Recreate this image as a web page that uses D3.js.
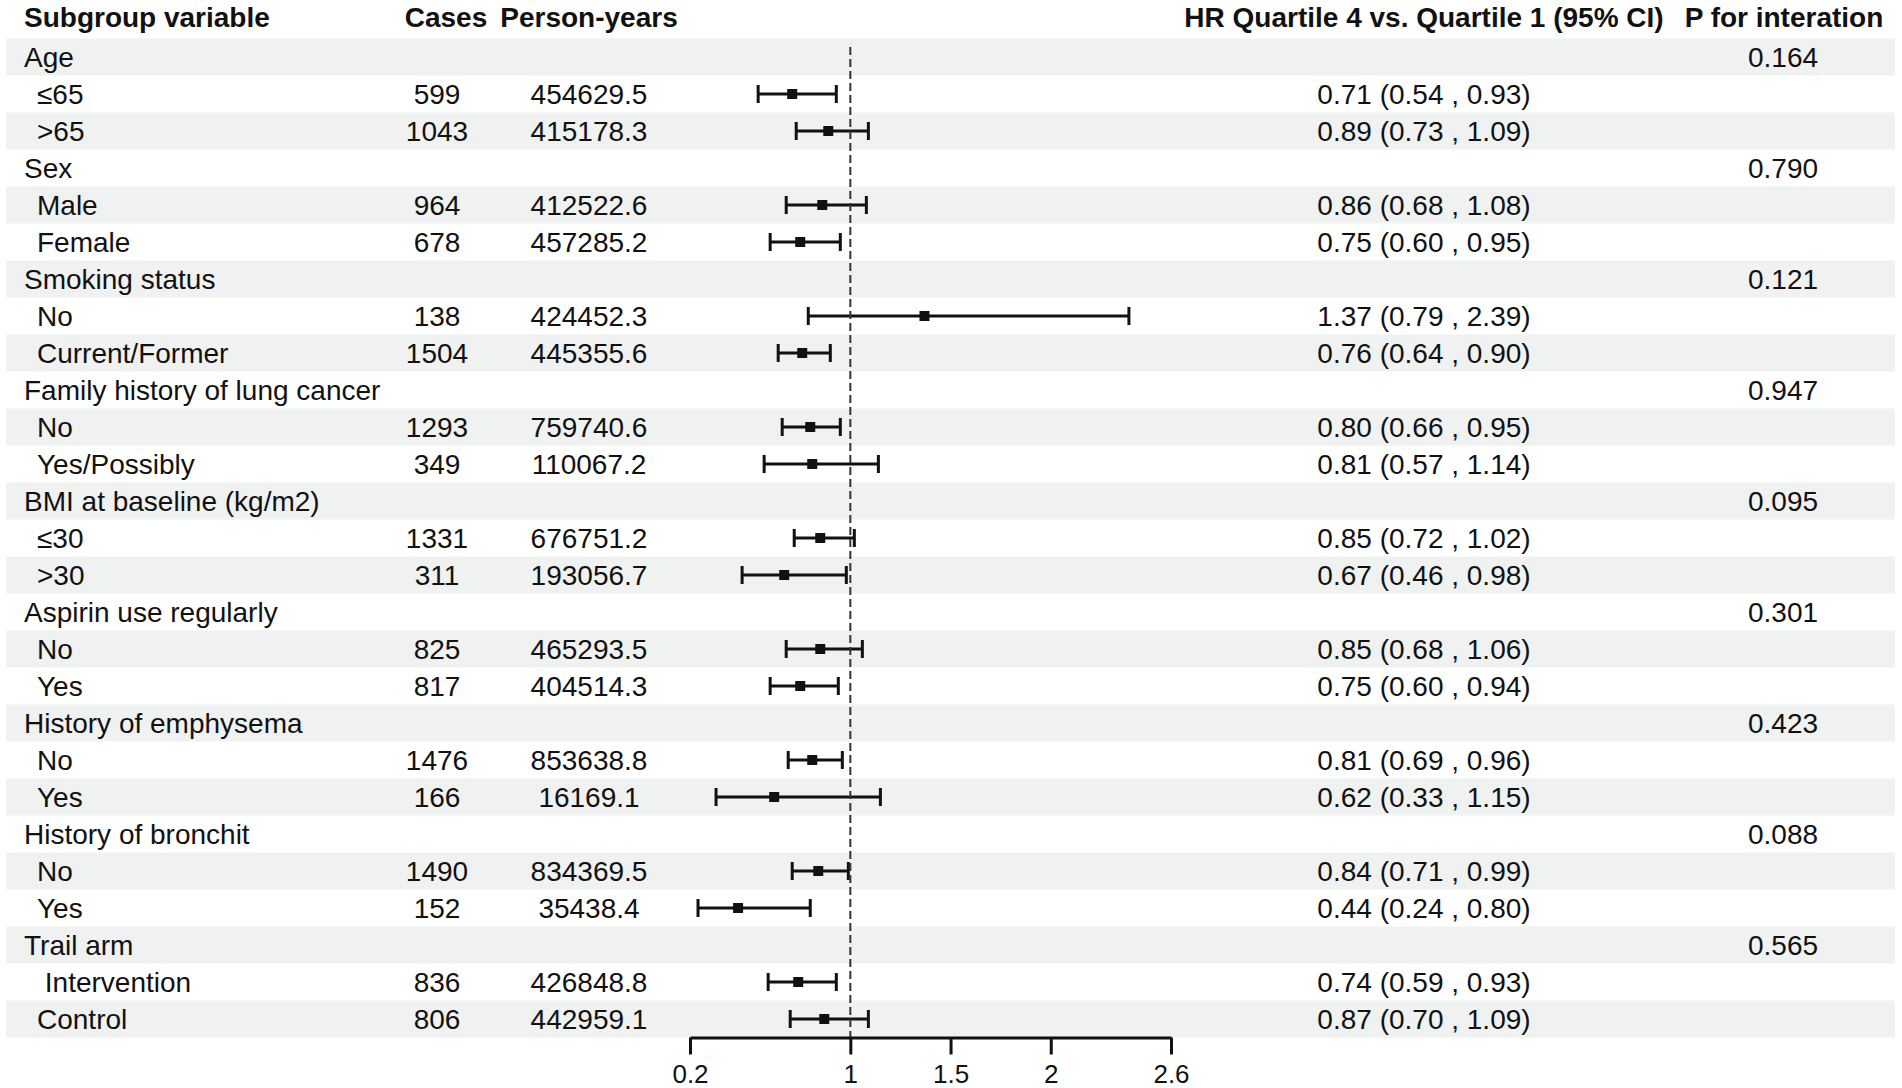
<!DOCTYPE html>
<html>
<head>
<meta charset="utf-8">
<script src="https://cdn.jsdelivr.net/npm/d3@7"></script>
<style>
    body { margin: 0; background: #fff; }
    text { font-family: "Liberation Sans", Arial, sans-serif; fill: #111; white-space: pre; }
</style>
</head>
<body>
<svg id="forest" width="1902" height="1088"></svg>
<script>
const groupNames = ["Age", "Sex", "Smoking status", "Family history of lung cancer",
    "BMI at baseline (kg/m2)", "Aspirin use regularly", "History of emphysema",
    "History of bronchit", "Trail arm"];
const pInteraction = ["0.164", "0.790", "0.121", "0.947", "0.095", "0.301", "0.423", "0.088", "0.565"];

const subLabels = ["≤65", ">65", "Male", "Female", "No", "Current/Former", "No", "Yes/Possibly",
    "≤30", ">30", "No", "Yes", "No", "Yes", "No", "Yes", " Intervention", "Control"];
const cases = [599, 1043, 964, 678, 138, 1504, 1293, 349, 1331, 311, 825, 817, 1476, 166, 1490, 152, 836, 806];
const personYears = ["454629.5", "415178.3", "412522.6", "457285.2", "424452.3", "445355.6",
    "759740.6", "110067.2", "676751.2", "193056.7", "465293.5", "404514.3",
    "853638.8", "16169.1", "834369.5", "35438.4", "426848.8", "442959.1"];
const hr = [0.71, 0.89, 0.86, 0.75, 1.37, 0.76, 0.80, 0.81, 0.85, 0.67, 0.85, 0.75, 0.81, 0.62, 0.84, 0.44, 0.74, 0.87];
const ciLow = [0.54, 0.73, 0.68, 0.60, 0.79, 0.64, 0.66, 0.57, 0.72, 0.46, 0.68, 0.60, 0.69, 0.33, 0.71, 0.24, 0.59, 0.70];
const ciHigh = [0.93, 1.09, 1.08, 0.95, 2.39, 0.90, 0.95, 1.14, 1.02, 0.98, 1.06, 0.94, 0.96, 1.15, 0.99, 0.80, 0.93, 1.09];
const xTicks = [0.2, 1, 1.5, 2, 2.6];

const headers = [
    { text: "Subgroup variable", x: 24, anchor: "start" },
    { text: "Cases", x: 446, anchor: "middle" },
    { text: "Person-years", x: 589, anchor: "middle" },
    { text: "HR Quartile 4 vs. Quartile 1 (95% CI)", x: 1424, anchor: "middle" },
    { text: "P for interation", x: 1784, anchor: "middle" }
];

// flatten into table rows: group header followed by its two subgroups
const rows = [];
groupNames.forEach((g, i) => {
    rows.push({ label: g, group: true, p: pInteraction[i] });
    for (let k = 0; k < 2; k++) {
        const j = i * 2 + k;
        rows.push({ label: subLabels[j], group: false, cases: cases[j], py: personYears[j],
            hr: hr[j], lo: ciLow[j], hi: ciHigh[j] });
    }
});

const chart = d3.select("#forest");
const fontSize = 28;
const rowTop = 38.5;
const rowH = 37;
const f2 = d3.format(".2f");

const y = d3.scaleBand()
    .domain(d3.range(rows.length))
    .range([rowTop, rowTop + rows.length * rowH]);

const x = d3.scaleLinear().domain([0.2, 2.6]).range([690, 1171]);

chart.append("rect").attr("width", 1902).attr("height", 1088).attr("fill", "#fff");

// stripes
chart.append("g").selectAll("rect")
    .data(rows)
    .enter()
    .filter((d, i) => i % 2 === 0)
    .append("rect")
    .attr("x", 6)
    .attr("width", 1889)
    .attr("y", d => y(rows.indexOf(d)))
    .attr("height", y.bandwidth())
    .attr("fill", "#eff2f1");

// header
chart.append("g").selectAll("text")
    .data(headers)
    .enter()
    .append("text")
    .text(d => d.text)
    .attr("x", d => d.x)
    .attr("y", 17)
    .attr("dy", "0.35em")
    .attr("text-anchor", d => d.anchor)
    .attr("font-size", fontSize)
    .attr("font-weight", "bold");

const rowG = chart.append("g").selectAll("g")
    .data(rows)
    .enter()
    .append("g")
    .attr("transform", (d, i) => "translate(0," + (y(i) + y.bandwidth() / 2) + ")");

rowG.append("text")
    .text(d => d.label)
    .attr("x", d => d.group ? 24 : 37)
    .attr("dy", "0.35em")
    .attr("font-size", fontSize);

const subG = rowG.filter(d => !d.group);

subG.append("text")
    .text(d => d.cases)
    .attr("x", 437)
    .attr("dy", "0.35em")
    .attr("text-anchor", "middle")
    .attr("font-size", fontSize);

subG.append("text")
    .text(d => d.py)
    .attr("x", 589)
    .attr("dy", "0.35em")
    .attr("text-anchor", "middle")
    .attr("font-size", fontSize);

subG.append("text")
    .text(d => f2(d.hr) + " (" + f2(d.lo) + " , " + f2(d.hi) + ")")
    .attr("x", 1424)
    .attr("dy", "0.35em")
    .attr("text-anchor", "middle")
    .attr("font-size", fontSize);

rowG.filter(d => d.group).append("text")
    .text(d => d.p)
    .attr("x", 1783)
    .attr("dy", "0.35em")
    .attr("text-anchor", "middle")
    .attr("font-size", fontSize);

// reference line at HR = 1
chart.append("line")
    .attr("x1", x(1)).attr("x2", x(1))
    .attr("y1", 47).attr("y2", rowTop + rows.length * rowH)
    .attr("stroke", "#333")
    .attr("stroke-width", 2)
    .attr("stroke-dasharray", "8,4");

// confidence intervals
const capH = 9;
const ciWidth = 3;
subG.append("line")
    .attr("x1", d => x(d.lo)).attr("x2", d => x(d.hi))
    .attr("stroke", "#111").attr("stroke-width", ciWidth);
subG.append("line")
    .attr("x1", d => x(d.lo)).attr("x2", d => x(d.lo))
    .attr("y1", -capH).attr("y2", capH)
    .attr("stroke", "#111").attr("stroke-width", ciWidth);
subG.append("line")
    .attr("x1", d => x(d.hi)).attr("x2", d => x(d.hi))
    .attr("y1", -capH).attr("y2", capH)
    .attr("stroke", "#111").attr("stroke-width", ciWidth);
subG.append("rect")
    .attr("x", d => x(d.hr) - 5)
    .attr("y", -5)
    .attr("width", 10)
    .attr("height", 10)
    .attr("fill", "#111");

// x axis
const axis = chart.append("g")
    .attr("transform", "translate(0," + (rowTop + rows.length * rowH) + ")")
    .call(d3.axisBottom(x).tickValues(xTicks).tickFormat(d => String(d))
        .tickSize(17).tickSizeOuter(0).tickPadding(10));

axis.select(".domain").attr("stroke", "#111").attr("stroke-width", 3);
axis.selectAll(".tick line").attr("stroke", "#111").attr("stroke-width", 3);
axis.selectAll(".tick text")
    .attr("font-size", 26)
    .attr("font-family", "Liberation Sans, Arial, sans-serif")
    .attr("fill", "#111");
</script>
</body>
</html>
